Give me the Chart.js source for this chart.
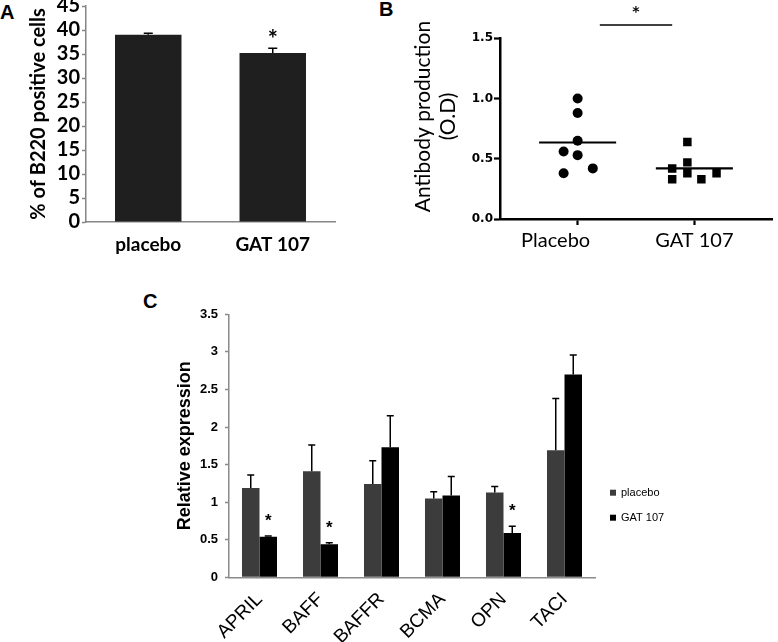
<!DOCTYPE html>
<html><head><meta charset="utf-8">
<script src="https://cdn.jsdelivr.net/npm/chart.js@4.4.0/dist/chart.umd.min.js"></script>
<style>
html,body{margin:0;padding:0;background:#fff;width:778px;height:642px;overflow:hidden;}
canvas{position:absolute;}
.lbl{position:absolute;font-family:"Liberation Sans",Arial,sans-serif;font-weight:bold;font-size:20px;color:#000;line-height:1;}
</style></head><body>
<div class="lbl" style="left:0px;top:2px">A</div>
<div class="lbl" style="left:379px;top:-1px">B</div>
<div class="lbl" style="left:143px;top:291px">C</div>
<canvas id="ca" width="345" height="290" style="left:0;top:0"></canvas>
<canvas id="cb" width="398" height="290" style="left:380px;top:0"></canvas>
<canvas id="cc" width="638" height="352" style="left:140px;top:290px"></canvas>
<script>
// ---------- Panel A data ----------
const aCategories = ['placebo', 'GAT 107'];
const aValues = [39.0, 35.2];
const aErrors = [0.3, 1.0];
const aSignificant = [false, true];
const aYTicks = [0, 5, 10, 15, 20, 25, 30, 35, 40, 45];
const aYTitle = '% of B220 positive cells';

// ---------- Panel B data ----------
const bCategories = ['Placebo', 'GAT 107'];
const bPlaceboValues = [1.00, 0.88, 0.65, 0.56, 0.53, 0.38, 0.42];
const bPlaceboJitter = [0, 0, 0, -0.12, 0, -0.12, 0.13];
const bGatValues = [0.64, 0.47, 0.42, 0.38, 0.33, 0.33, 0.38];
const bGatJitter = [-0.06, -0.06, -0.19, -0.06, -0.19, 0.06, 0.19];
const bMeans = [0.635, 0.42];
const bYTitle = ['Antibody production', '(O.D)'];
const bYTicks = [0, 0.5, 1.0, 1.5];
const bSigSpan = [1.19, 1.81];
const bSigLevel = 1.61;

// ---------- Panel C data ----------
const cGenes = ['APRIL', 'BAFF', 'BAFFR', 'BCMA', 'OPN', 'TACI'];
const cSeries = ['placebo', 'GAT 107'];
const cPlacebo = [1.19, 1.41, 1.24, 1.05, 1.13, 1.69];
const cPlaceboErr = [0.17, 0.35, 0.31, 0.09, 0.08, 0.69];
const cGat = [0.54, 0.44, 1.73, 1.09, 0.59, 2.70];
const cGatErr = [0.01, 0.02, 0.42, 0.25, 0.09, 0.26];
const cSignificant = [true, true, false, false, true, false];
const cYTicks = [0, 0.5, 1, 1.5, 2, 2.5, 3, 3.5];
const cYTitle = 'Relative expression';

// ---------- shared plugin: error bars + stars ----------
const errPlugin = {
  id: 'errbars',
  afterDatasetsDraw(chart, args, opts) {
    const ctx = chart.ctx, ys = chart.scales.y;
    chart.data.datasets.forEach((ds, di) => {
      if (!ds.errors) return;
      const meta = chart.getDatasetMeta(di);
      meta.data.forEach((bar, i) => {
        const top = ys.getPixelForValue(ds.data[i] + ds.errors[i]);
        ctx.save();
        ctx.strokeStyle = '#000';
        ctx.lineWidth = opts.width;
        ctx.beginPath();
        ctx.moveTo(bar.x, bar.y);
        ctx.lineTo(bar.x, top);
        ctx.moveTo(bar.x - opts.cap, top);
        ctx.lineTo(bar.x + opts.cap, top);
        ctx.stroke();
        if (ds.stars && ds.stars[i]) {
          ctx.fillStyle = '#000';
          ctx.font = opts.starFont;
          ctx.textAlign = 'center';
          ctx.textBaseline = 'alphabetic';
          ctx.fillText('*', bar.x, top - opts.starGap);
        }
        ctx.restore();
      });
    });
  }
};

// ---------- Panel A ----------
new Chart(document.getElementById('ca'), {
  type: 'bar',
  data: {
    labels: aCategories,
    datasets: [{
      data: aValues, errors: aErrors, stars: aSignificant,
      backgroundColor: '#1f1f1f', barPercentage: 0.534, categoryPercentage: 1
    }]
  },
  options: {
    responsive: false, animation: false,
    layout: { padding: { top: 6, right: 10, left: 0, bottom: 0 } },
    plugins: {
      legend: { display: false }, tooltip: { enabled: false },
      errbars: { width: 1.5, cap: 4.5, starFont: 'bold 24px Lato', starGap: 0 }
    },
    scales: {
      x: {
        grid: { display: false, drawTicks: false },
        border: { color: '#868686', width: 1.5 },
        ticks: { color: '#000', font: { family: 'Lato', size: 19, weight: 'bold' }, padding: 11 },
        afterFit(s) { s.height = 68; s.paddingLeft = 0; s.paddingRight = 0; }
      },
      y: {
        min: 0, max: 45,
        afterBuildTicks(s) { s.ticks = aYTicks.map(v => ({ value: v })); },
        ticks: { autoSkip: false, color: '#000', font: { family: 'Lato', size: 20, weight: 'bold' }, padding: 2 },
        grid: { drawOnChartArea: false, drawTicks: true, tickLength: 4, tickColor: '#868686', tickWidth: 1.5 },
        border: { color: '#868686', width: 1.5 },
        title: { display: true, text: aYTitle, color: '#000', font: { family: 'Lato', size: 20, weight: 'bold' }, padding: { top: 27, bottom: 0 } },
        afterFit(s) { s.width = 86; s.paddingTop = 0; s.paddingBottom = 0; }
      }
    }
  },
  plugins: [errPlugin]
});

// ---------- Panel B ----------
const bPlugin = {
  id: 'bextras',
  afterDraw(chart) {
    const ctx = chart.ctx, xs = chart.scales.x, ys = chart.scales.y;
    ctx.save();
    ctx.fillStyle = '#000';
    // category labels
    ctx.font = '20px Lato';
    ctx.textAlign = 'center';
    ctx.textBaseline = 'alphabetic';
    const shift = [-22, 0];
    bCategories.forEach((c, i) => {
      ctx.fillText(c, xs.getPixelForValue(i + 1) + shift[i], 247);
    });
    // y title (two lines)
    ctx.font = '21px Lato';
    const yc = 116.5;
    [50, 75].forEach((bx, i) => {
      ctx.save();
      ctx.translate(bx, yc);
      ctx.rotate(-Math.PI / 2);
      ctx.textAlign = 'center';
      ctx.fillText(bYTitle[i], 0, 0);
      ctx.restore();
    });
    // significance bar
    const y = ys.getPixelForValue(bSigLevel);
    const x1 = xs.getPixelForValue(bSigSpan[0]), x2 = xs.getPixelForValue(bSigSpan[1]);
    ctx.strokeStyle = '#000';
    ctx.lineWidth = 1.5;
    ctx.beginPath(); ctx.moveTo(x1, y); ctx.lineTo(x2, y); ctx.stroke();
    ctx.font = 'bold 14px "DejaVu Sans"';
    ctx.fillText('*', (x1 + x2) / 2, y - 9);
    ctx.restore();
  }
};

new Chart(document.getElementById('cb'), {
  type: 'scatter',
  data: {
    datasets: [
      { data: bPlaceboValues.map((v, i) => ({ x: 1 + bPlaceboJitter[i], y: v })),
        pointStyle: 'circle', pointRadius: 5, backgroundColor: '#000', borderColor: '#000', borderWidth: 0 },
      { data: bGatValues.map((v, i) => ({ x: 2 + bGatJitter[i], y: v })),
        pointStyle: 'rect', pointRadius: 6, backgroundColor: '#000', borderColor: '#000', borderWidth: 0 },
      { type: 'line', data: [{ x: 1 - 0.33, y: bMeans[0] }, { x: 1 + 0.33, y: bMeans[0] }],
        borderColor: '#000', borderWidth: 2.2, pointRadius: 0, showLine: true },
      { type: 'line', data: [{ x: 2 - 0.33, y: bMeans[1] }, { x: 2 + 0.33, y: bMeans[1] }],
        borderColor: '#000', borderWidth: 2.2, pointRadius: 0, showLine: true }
    ]
  },
  options: {
    responsive: false, animation: false,
    layout: { padding: { top: 38.3, right: 0, left: 0, bottom: 0 } },
    plugins: { legend: { display: false }, tooltip: { enabled: false } },
    scales: {
      x: {
        type: 'linear', min: 0.335, max: 2.665,
        afterBuildTicks(s) { s.ticks = bCategories.map((c, i) => ({ value: i + 1 })); },
        ticks: { display: false },
        grid: { drawOnChartArea: false, drawTicks: true, tickLength: 6, tickColor: '#000', tickWidth: 2.2 },
        border: { color: '#000', width: 2.5 },
        afterFit(s) { s.height = 71; s.paddingLeft = 0; s.paddingRight = 0; }
      },
      y: {
        min: 0, max: 1.5,
        afterBuildTicks(s) { s.ticks = bYTicks.map(v => ({ value: v })); },
        ticks: { autoSkip: false, color: '#000', font: { family: 'DejaVu Sans', size: 12, weight: 'bold' }, padding: 1,
                 callback: v => Number(v).toFixed(1) },
        grid: { drawOnChartArea: false, drawTicks: true, tickLength: 6, tickColor: '#000', tickWidth: 2.2 },
        border: { color: '#000', width: 2.5 },
        afterFit(s) { s.width = 120; s.paddingTop = 0; s.paddingBottom = 0; }
      }
    }
  },
  plugins: [bPlugin]
});

// ---------- Panel C ----------
const cLegend = {
  id: 'clegend',
  afterDraw(chart) {
    const ctx = chart.ctx;
    ctx.save();
    ctx.font = '11px "Liberation Sans"';
    ctx.textBaseline = 'middle';
    ctx.textAlign = 'left';
    chart.data.datasets.forEach((ds, i) => {
      const y = 202.7 + i * 25;
      ctx.fillStyle = ds.backgroundColor;
      ctx.fillRect(470, y - 3, 6, 6);
      ctx.fillStyle = '#000';
      ctx.fillText(ds.label, 481, y);
    });
    ctx.restore();
  }
};

new Chart(document.getElementById('cc'), {
  type: 'bar',
  data: {
    labels: cGenes,
    datasets: [
      { label: cSeries[0], data: cPlacebo, errors: cPlaceboErr, backgroundColor: '#3c3c3c',
        barPercentage: 1, categoryPercentage: 0.574 },
      { label: cSeries[1], data: cGat, errors: cGatErr, stars: cSignificant, backgroundColor: '#000000',
        barPercentage: 1, categoryPercentage: 0.574 }
    ]
  },
  options: {
    responsive: false, animation: false,
    layout: { padding: { top: 24.3, right: 183, left: 0, bottom: 0 } },
    plugins: {
      legend: { display: false }, tooltip: { enabled: false },
      errbars: { width: 1.5, cap: 3.5, starFont: 'bold 17px "Liberation Sans"', starGap: 10 }
    },
    scales: {
      x: {
        grid: { display: false, drawTicks: false },
        border: { color: '#8a8a8a', width: 1.5 },
        ticks: { color: '#000', font: { family: 'Liberation Sans', size: 19 }, minRotation: 45, maxRotation: 45, autoSkip: false, padding: 11 },
        afterFit(s) { s.height = 64.7; s.paddingLeft = 0; s.paddingRight = 0; }
      },
      y: {
        min: 0, max: 3.5,
        afterBuildTicks(s) { s.ticks = cYTicks.map(v => ({ value: v })); },
        ticks: { autoSkip: false, color: '#000', font: { family: 'Liberation Sans', size: 13, weight: 'bold' }, padding: 7,
                 callback: v => String(v) },
        grid: { drawOnChartArea: false, drawTicks: true, tickLength: 4, tickColor: '#8a8a8a', tickWidth: 1.5 },
        border: { color: '#8a8a8a', width: 1.5 },
        title: { display: true, text: cYTitle, color: '#000', font: { family: 'Liberation Sans', size: 18, weight: 'bold' }, padding: { top: 34, bottom: 0 } },
        afterFit(s) { s.width = 89; s.paddingTop = 0; s.paddingBottom = 0; }
      }
    }
  },
  plugins: [errPlugin, cLegend]
});
</script>
</body></html>
